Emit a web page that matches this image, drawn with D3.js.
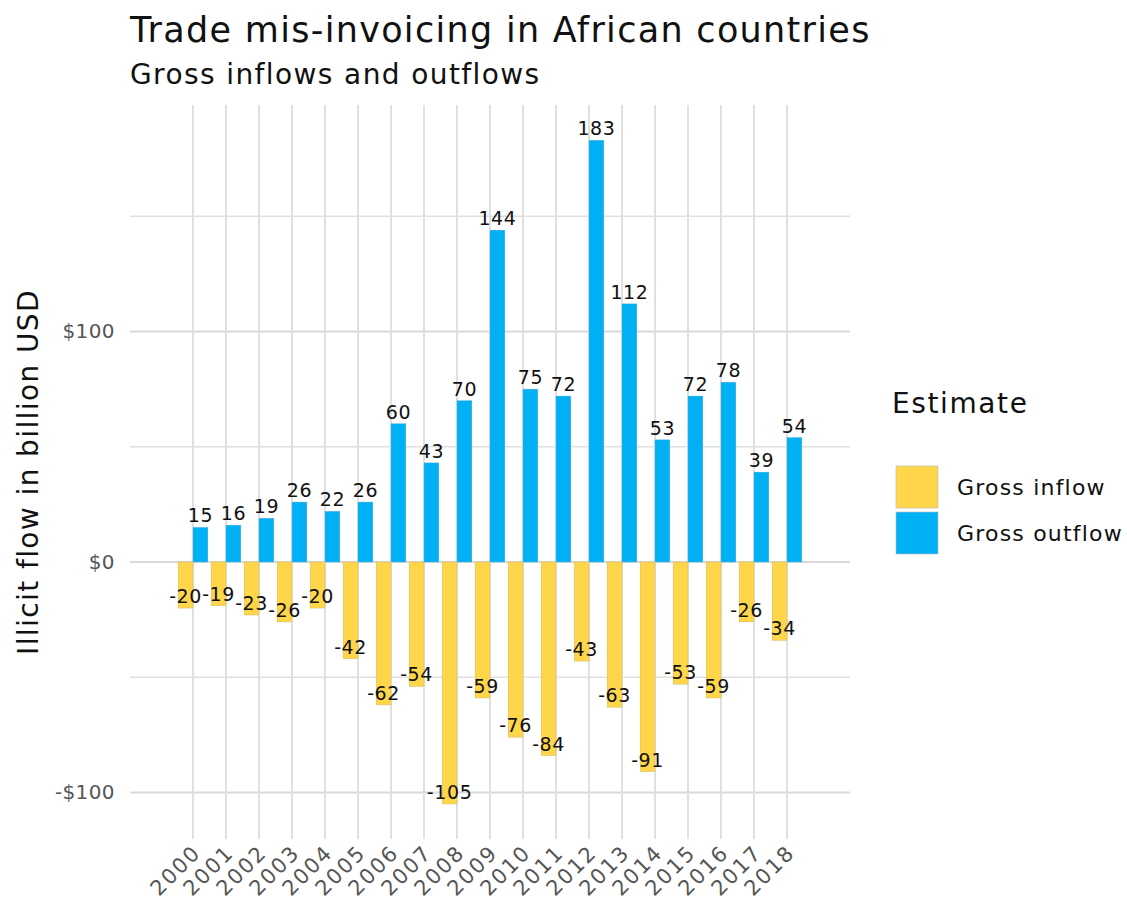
<!DOCTYPE html>
<html>
<head>
<meta charset="utf-8">
<script src="https://cdn.jsdelivr.net/npm/d3@7"></script>
<style>
  body { margin: 0; background: #fff; }
  svg { font-family: "DejaVu Sans", sans-serif; }
</style>
</head>
<body>
<svg id="chart"></svg>
<script>
// data (billion USD)
const years = ['2000','2001','2002','2003','2004','2005','2006','2007','2008','2009',
               '2010','2011','2012','2013','2014','2015','2016','2017','2018'];
const grossInflow  = [-20, -19, -23, -26, -20, -42, -62, -54, -105, -59, -76, -84, -43, -63, -91, -53, -59, -26, -34];
const grossOutflow = [15, 16, 19, 26, 22, 26, 60, 43, 70, 144, 75, 72, 183, 112, 53, 72, 78, 39, 54];
const seriesNames  = ['Gross inflow', 'Gross outflow'];
const seriesColors = ['#FFD64A', '#00B0F5'];
const yMajor = [-100, 0, 100];
const yMinor = [-50, 50, 150];

const width = 1127;
const height = 906;
const panel = { left: 130, right: 850, top: 105, bottom: 839 };

const svg = d3.select('#chart')
  .attr('width', width)
  .attr('height', height);

const x = d3.scaleBand()
  .domain(years)
  .range([176.5, 803.5])
  .paddingInner(0)
  .paddingOuter(0);

const y = d3.scaleLinear()
  .domain([-120.2, 198.3])
  .range([panel.bottom, panel.top]);

const color = d3.scaleOrdinal().domain(seriesNames).range(seriesColors);

const barW = x.bandwidth() * 0.9 / 2;

// grid
const grid = svg.append('g');
grid.selectAll('line.minor')
  .data(yMinor)
  .enter().append('line')
  .attr('class', 'minor')
  .attr('x1', panel.left).attr('x2', panel.right)
  .attr('y1', d => y(d)).attr('y2', d => y(d))
  .attr('stroke', '#e0e0e0')
  .attr('stroke-width', 1.6);

grid.selectAll('line.major')
  .data(yMajor)
  .enter().append('line')
  .attr('class', 'major')
  .attr('x1', panel.left).attr('x2', panel.right)
  .attr('y1', d => y(d)).attr('y2', d => y(d))
  .attr('stroke', '#d9d9d9')
  .attr('stroke-width', 2);

grid.selectAll('line.vert')
  .data(years)
  .enter().append('line')
  .attr('class', 'vert')
  .attr('x1', d => x(d) + x.bandwidth() / 2)
  .attr('x2', d => x(d) + x.bandwidth() / 2)
  .attr('y1', panel.top).attr('y2', panel.bottom)
  .attr('stroke', '#e0e0e0')
  .attr('stroke-width', 2);

// bars
const rows = years.map((yr, i) => ({ year: yr, inflow: grossInflow[i], outflow: grossOutflow[i] }));

svg.append('g').selectAll('rect')
  .data(rows)
  .enter().append('rect')
  .attr('x', d => x(d.year) + x.bandwidth() / 2 - barW)
  .attr('width', barW)
  .attr('y', y(0))
  .attr('height', d => y(d.inflow) - y(0))
  .attr('fill', color('Gross inflow'))
  .attr('stroke', '#c8b060')
  .attr('stroke-width', 0.4);

svg.append('g').selectAll('rect')
  .data(rows)
  .enter().append('rect')
  .attr('x', d => x(d.year) + x.bandwidth() / 2)
  .attr('width', barW)
  .attr('y', d => y(d.outflow))
  .attr('height', d => y(0) - y(d.outflow))
  .attr('fill', color('Gross outflow'))
  .attr('stroke', '#5ab0d8')
  .attr('stroke-width', 0.4);

// value labels
const labels = svg.append('g')
  .attr('font-size', 19)
  .attr('letter-spacing', 0.6)
  .attr('fill', '#111')
  .attr('text-anchor', 'middle');

labels.selectAll('text.out')
  .data(rows)
  .enter().append('text')
  .attr('class', 'out')
  .attr('x', d => x(d.year) + x.bandwidth() / 2 + barW / 2)
  .attr('y', d => y(d.outflow) - 5)
  .text(d => d.outflow);

labels.selectAll('text.in')
  .data(rows)
  .enter().append('text')
  .attr('class', 'in')
  .attr('x', d => x(d.year) + x.bandwidth() / 2 - barW / 2)
  .attr('y', d => y(d.inflow) - 5)
  .text(d => d.inflow);

// y axis
const yAxis = svg.append('g')
  .attr('transform', `translate(${panel.left},0)`)
  .call(d3.axisLeft(y).tickValues(yMajor).tickSize(0).tickPadding(15)
    .tickFormat(d => (d < 0 ? '-$' : '$') + Math.abs(d)));
yAxis.select('.domain').remove();
yAxis.selectAll('text')
  .attr('font-size', 20)
  .attr('letter-spacing', 0.4)
  .attr('fill', '#555')
  .attr('font-family', '"DejaVu Sans", sans-serif');

// x axis
const xAxis = svg.append('g')
  .attr('transform', `translate(0,${panel.bottom})`)
  .call(d3.axisBottom(x).tickSize(0).tickPadding(0));
xAxis.select('.domain').remove();
xAxis.selectAll('text')
  .attr('font-size', 21)
  .attr('letter-spacing', 1.8)
  .attr('fill', '#555')
  .attr('font-family', '"DejaVu Sans", sans-serif')
  .attr('text-anchor', 'end')
  .attr('dy', null)
  .attr('y', 0)
  .attr('transform', 'translate(9,15) rotate(-45)');

// titles
svg.append('text')
  .attr('x', 130).attr('y', 42)
  .attr('font-size', 35)
  .attr('letter-spacing', 1.3)
  .attr('fill', '#111')
  .text('Trade mis-invoicing in African countries');

svg.append('text')
  .attr('x', 130).attr('y', 84)
  .attr('font-size', 28)
  .attr('letter-spacing', 1.4)
  .attr('fill', '#111')
  .text('Gross inflows and outflows');

svg.append('text')
  .attr('transform', `translate(38,${(panel.top + panel.bottom) / 2}) rotate(-90)`)
  .attr('text-anchor', 'middle')
  .attr('font-size', 28)
  .attr('letter-spacing', 1.4)
  .attr('fill', '#111')
  .text('Illicit flow in billion USD');

// legend
const legend = svg.append('g').attr('transform', 'translate(892,0)');
legend.append('text')
  .attr('x', 0).attr('y', 413)
  .attr('font-size', 28)
  .attr('letter-spacing', 1.6)
  .attr('fill', '#111')
  .text('Estimate');

const items = legend.selectAll('g.item')
  .data(seriesNames)
  .enter().append('g')
  .attr('class', 'item')
  .attr('transform', (d, i) => `translate(4,${466 + i * 46})`);

items.append('rect')
  .attr('width', 42).attr('height', 42)
  .attr('fill', d => color(d))
  .attr('stroke', '#bbb')
  .attr('stroke-width', 0.6);

items.append('text')
  .attr('x', 61).attr('y', 29)
  .attr('font-size', 22)
  .attr('letter-spacing', 1.2)
  .attr('fill', '#111')
  .text(d => d);
</script>
</body>
</html>
